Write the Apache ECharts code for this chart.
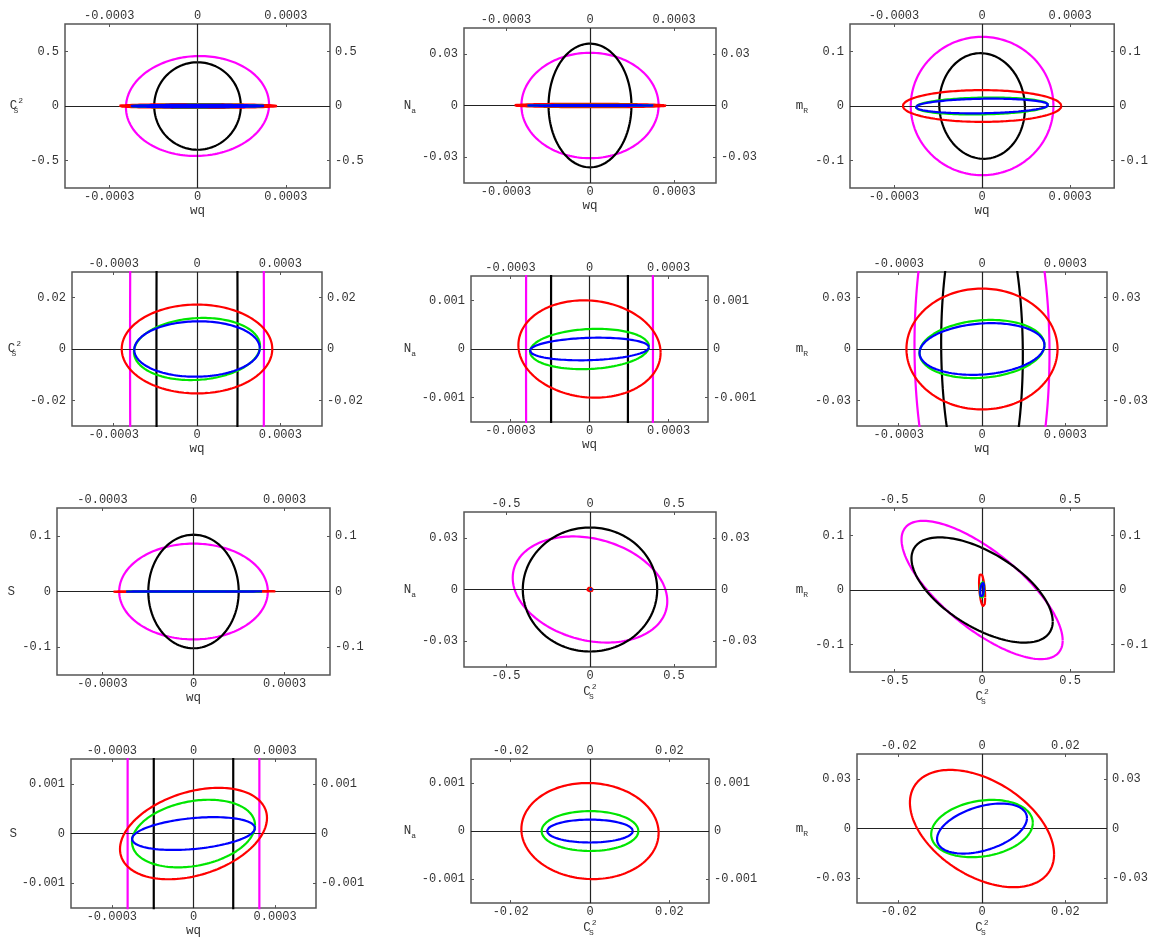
<!DOCTYPE html>
<html><head><meta charset="utf-8">
<script src="https://cdn.jsdelivr.net/npm/echarts@6/dist/echarts.min.js"></script>
<style>html,body{margin:0;padding:0;background:#fff}#c{width:1151px;height:938px}</style>
</head><body><div id="c"></div>
<script>
// ---- tick values ----
const ticksWq = [-0.0003, 0, 0.0003];
const ticksCsWide = [-0.5, 0, 0.5];
const ticksCsNarrow = [-0.02, 0, 0.02];
const ticksNaWide = [-0.03, 0, 0.03];
const ticksNaNarrow = [-0.001, 0, 0.001];
const ticksMrWide = [-0.1, 0, 0.1];
const ticksMrNarrow = [-0.03, 0, 0.03];
const ticksSWide = [-0.1, 0, 0.1];
const ticksSNarrow = [-0.001, 0, 0.001];

// ---- axis half-ranges ----
const halfWq = 0.00045, halfCsWide = 0.75, halfCsNarrow = 0.03;
const halfNaWide = 0.045, halfNaNarrow = 0.0015;
const halfMrWide = 0.15, halfMrNarrow = 0.045;
const halfSWide = 0.15, halfSNarrow = 0.0015;

// ---- curves: order magenta, black, red, green, blue ----
const curveNames = ['magenta', 'black', 'red', 'green', 'blue'];
const curveColors = ['#ff00ff', '#000000', '#ff0000', '#00e600', '#0000ff'];

// each ellipse: [sigma_x, sigma_y, correlation]
const ell_r1c1 = [[0.000243,0.457,0.03],[0.000147,0.40,0],[0.000270,0.0173,0],[0.000226,0.0121,0.1],[0.000226,0.0108,0.03]];
const ell_r1c2 = [[0.000245,0.0306,0],[0.000148,0.0359,0],[0.000272,0.0010,-0.08],[0.000226,0.000414,0.13],[0.000226,0.000232,0.15]];
const ell_r1c3 = [[0.000243,0.1265,0],[0.000146,0.0966,-0.04],[0.000270,0.0290,0],[0.000226,0.0155,0.14],[0.000226,0.0134,0.15]];
const ell_r2c1 = [[0.000241,0.457,0],[0.000146,0.40,0],[0.000271,0.0173,0],[0.000227,0.0121,0.1],[0.000226,0.0108,0.03]];
const ell_r2c2 = [[0.000241,0.0306,0],[0.000146,0.0359,0],[0.000270,0.0010,-0.08],[0.000226,0.000414,0.13],[0.000226,0.000232,0.15]];
const ell_r2c3 = [[0.000243,0.1265,-0.02],[0.000147,0.0966,-0.04],[0.000272,0.0353,0],[0.000225,0.0170,0.14],[0.000225,0.0151,0.15]];
const ell_r3c1 = [[0.000245,0.086,0],[0.000149,0.102,0],[0.000270,0.00092,0.34],[0.000226,0.00068,0.25],[0.000226,0.00033,0.33]];
const ell_r3c2 = [[0.46,0.0308,-0.22],[0.40,0.036,0],[0.0173,0.0010,-0.04],[0.0122,0.000415,0],[0.0108,0.000238,0]];
const ell_r3c3 = [[0.4575,0.1265,-0.73],[0.401,0.0963,-0.6],[0.0173,0.0305,-0.44],[0.0122,0.0155,0.2],[0.0108,0.0134,0.42]];
const ell_r4c1 = [[0.000242,0.086,0],[0.000146,0.102,0],[0.000270,0.00092,0.34],[0.000226,0.00068,0.25],[0.000226,0.00033,0.33]];
const ell_r4c2 = [[0.46,0.0308,-0.22],[0.40,0.036,0],[0.0173,0.0010,-0.04],[0.0122,0.000415,0],[0.0108,0.000238,0]];
const ell_r4c3 = [[0.4575,0.1265,-0.73],[0.401,0.0963,-0.6],[0.0173,0.0354,-0.44],[0.0122,0.0173,0.2],[0.0108,0.0151,0.42]];

// ---- axis names ----
const nameWq = 'wq';
const nameCs = 'C{subS|S}{sup|2}';
const nameNa = 'N{sub|a}';
const nameMr = 'm{sub|R}';
const nameS = 'S';

const axisWq = {half: halfWq, ticks: ticksWq, name: nameWq};
const axisCsW = {half: halfCsWide, ticks: ticksCsWide, name: nameCs};
const axisCsN = {half: halfCsNarrow, ticks: ticksCsNarrow, name: nameCs};
const axisNaW = {half: halfNaWide, ticks: ticksNaWide, name: nameNa};
const axisNaN = {half: halfNaNarrow, ticks: ticksNaNarrow, name: nameNa};
const axisMrW = {half: halfMrWide, ticks: ticksMrWide, name: nameMr};
const axisMrN = {half: halfMrNarrow, ticks: ticksMrNarrow, name: nameMr};
const axisSW = {half: halfSWide, ticks: ticksSWide, name: nameS};
const axisSN = {half: halfSNarrow, ticks: ticksSNarrow, name: nameS};

// ---- layout (left, top, width, height, yNameGap) ----
const panels = [
  {box:[65,24,265,164], yGap:42, x:axisWq, y:axisCsW, ell:ell_r1c1},
  {box:[464,28,252,155], yGap:48, x:axisWq, y:axisNaW, ell:ell_r1c2},
  {box:[850,24,265,164], yGap:42, x:axisWq, y:axisMrW, ell:ell_r1c3},
  {box:[72,272,250,154], yGap:51, x:axisWq, y:axisCsN, ell:ell_r2c1},
  {box:[471,276,237,146], yGap:55, x:axisWq, y:axisNaN, ell:ell_r2c2},
  {box:[857,272,251,154], yGap:49, x:axisWq, y:axisMrN, ell:ell_r2c3},
  {box:[57,508,273,167], yGap:42, x:axisWq, y:axisSW, ell:ell_r3c1},
  {box:[464,512,252,155], yGap:48, x:axisCsW, y:axisNaW, ell:ell_r3c2},
  {box:[850,508,265,164], yGap:42, x:axisCsW, y:axisMrW, ell:ell_r3c3},
  {box:[71,759,245,151], yGap:54, x:axisWq, y:axisSN, ell:ell_r4c1},
  {box:[471,759,238,147], yGap:55, x:axisCsN, y:axisNaN, ell:ell_r4c2},
  {box:[857,754,252,156], yGap:49, x:axisCsN, y:axisMrN, ell:ell_r4c3}
];

const FONT = 'Liberation Mono';
const labelColor = '#333';
const richNames = {
  sub: {fontFamily: FONT, fontSize: 8, color: labelColor, verticalAlign: 'top', padding: [10,0,0,0]},
  subS: {fontFamily: FONT, fontSize: 8, color: labelColor, verticalAlign: 'top', padding: [10,0,0,0], width: 1},
  sup: {fontFamily: FONT, fontSize: 8, color: labelColor, verticalAlign: 'top'}
};

function ellipsePoints(e) {
  const sx = e[0], sy = e[1], rho = e[2];
  const k = Math.sqrt(1 - rho * rho);
  const pts = [];
  const n = 720;
  for (let i = 0; i <= n; i++) {
    const t = 2 * Math.PI * i / n;
    pts.push([sx * Math.cos(t), sy * (rho * Math.cos(t) + k * Math.sin(t))]);
  }
  return pts;
}
function fmtFor(ticks) {
  return function (v) {
    for (const t of ticks) if (Math.abs(v - t) < 1e-12) return String(t);
    return '';
  };
}

const option = {animation: false, backgroundColor: '#fff', grid: [], xAxis: [], yAxis: [], series: []};

panels.forEach((p, i) => {
  option.grid.push({left: p.box[0], top: p.box[1], width: p.box[2], height: p.box[3],
    show: true, borderColor: '#555', borderWidth: 1.5, backgroundColor: 'transparent'});
  const tickStyle = {lineStyle: {color: '#555', width: 1}, inside: true, length: 3};
  const lblBase = {fontFamily: FONT, fontSize: 12, color: labelColor};
  ['bottom', 'top'].forEach(pos => {
    option.xAxis.push({
      gridIndex: i, type: 'value', position: pos, min: -p.x.half, max: p.x.half,
      axisLine: {show: false, onZero: false}, splitLine: {show: false},
      axisTick: Object.assign({show: true, customValues: p.x.ticks}, tickStyle),
      axisLabel: Object.assign({customValues: p.x.ticks, formatter: fmtFor(p.x.ticks), margin: pos === 'bottom' ? 3 : 2}, lblBase),
      name: pos === 'bottom' ? p.x.name : '', nameLocation: 'middle', nameGap: 21,
      nameTextStyle: {fontFamily: FONT, fontSize: 12.5, color: labelColor, verticalAlign: 'middle', rich: richNames}
    });
  });
  ['left', 'right'].forEach(pos => {
    option.yAxis.push({
      gridIndex: i, type: 'value', position: pos, min: -p.y.half, max: p.y.half,
      axisLine: {show: false, onZero: false}, splitLine: {show: false},
      axisTick: Object.assign({show: true, customValues: p.y.ticks}, tickStyle),
      axisLabel: Object.assign({customValues: p.y.ticks, formatter: fmtFor(p.y.ticks), margin: pos === 'left' ? 6 : 5}, lblBase),
      name: pos === 'left' ? p.y.name : '', nameLocation: 'middle', nameGap: p.yGap, nameRotate: 0,
      nameTextStyle: {fontFamily: FONT, fontSize: 12.5, color: labelColor, align: 'right', verticalAlign: 'middle', rich: richNames}
    });
  });
  p.ell.forEach((e, j) => {
    const s = {
      name: curveNames[j], type: 'line', xAxisIndex: 2 * i, yAxisIndex: 2 * i,
      data: ellipsePoints(e), symbol: 'none', showSymbol: false, clip: true, silent: true,
      lineStyle: {color: curveColors[j], width: 2.2}, z: 3 + j
    };
    if (j === 0) {
      s.markLine = {silent: true, symbol: ['none', 'none'], label: {show: false},
        lineStyle: {color: '#222', width: 1.2, type: 'solid'}, animation: false,
        data: [{xAxis: 0}, {yAxis: 0}]};
    }
    option.series.push(s);
  });
});

const chart = echarts.init(document.getElementById('c'), null, {renderer: 'canvas'});
chart.setOption(option);
</script>
</body></html>
